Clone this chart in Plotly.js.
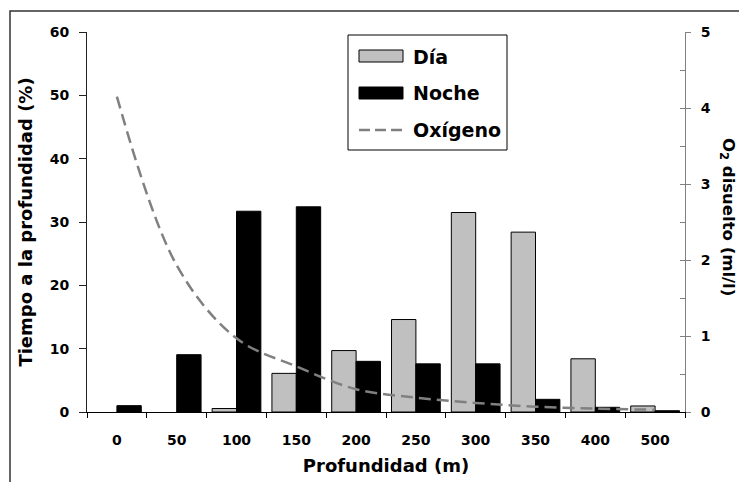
<!DOCTYPE html>
<html>
<head>
<meta charset="utf-8">
<script src="https://cdn.plot.ly/plotly-3.0.1.min.js"></script>
<style>html,body{margin:0;padding:0;background:#fff;}#chart{width:739px;height:482px;}</style>
</head>
<body>
<div id="chart"></div>
<script>
const categories = ['0','50','100','150','200','250','300','350','400','500'];
const dia = [0, 0, 0.55, 6.1, 9.7, 14.6, 31.5, 28.4, 8.4, 0.95];
const noche = [1.0, 9.05, 31.7, 32.4, 8.0, 7.6, 7.6, 2.0, 0.74, 0.2];
const oxigeno = [4.15, 1.93, 0.97, 0.6, 0.30, 0.19, 0.12, 0.07, 0.045, 0.03];
const legendLabels = ['Día', 'Noche', 'Oxígeno'];
const xTitle = 'Profundidad (m)';
const yTitle = 'Tiempo a la profundidad (%)';
const y2Title = 'O<sub>2</sub> disuelto (ml/l)';

const FONT = 'DejaVu Sans';
const bold = (s) => ({family: FONT, size: s, color: '#000', weight: 'bold'});

const traces = [
  {type: 'bar', name: legendLabels[0], x: categories, y: dia,
   marker: {color: '#C0C0C0', line: {color: '#000', width: dia.map(v => v > 0 ? 1 : 0)}}, showlegend: false},
  {type: 'bar', name: legendLabels[1], x: categories, y: noche,
   marker: {color: '#000', line: {color: '#000', width: noche.map(v => v > 0 ? 1 : 0)}}, showlegend: false},
  {type: 'scatter', mode: 'lines', name: legendLabels[2], x: categories, y: oxigeno, yaxis: 'y2',
   line: {color: '#808080', width: 2.5, dash: '12px,6px', shape: 'spline', smoothing: 1}, showlegend: false}
];

// pixel -> paper helpers for decorations (legend box, frame)
const L = 87, R = 685, T = 32, B = 412;
const px = (x) => (x - L) / (R - L);
const py = (y) => (B - y) / (B - T);

const shapes = [
  {type: 'rect', xref: 'paper', yref: 'paper', x0: px(10), x1: px(760), y0: py(11), y1: py(520),
   line: {color: '#333', width: 1.5}, fillcolor: 'rgba(0,0,0,0)', layer: 'below'},
  {type: 'rect', xref: 'paper', yref: 'paper', x0: px(348), x1: px(507), y0: py(150), y1: py(35),
   line: {color: '#000', width: 1}, fillcolor: '#fff', layer: 'above'},
  {type: 'rect', xref: 'paper', yref: 'paper', x0: px(359), x1: px(403), y0: py(62), y1: py(50),
   line: {color: '#000', width: 1}, fillcolor: '#C0C0C0', layer: 'above'},
  {type: 'rect', xref: 'paper', yref: 'paper', x0: px(359), x1: px(403), y0: py(99), y1: py(87),
   line: {color: '#000', width: 1}, fillcolor: '#000', layer: 'above'},
  {type: 'line', xref: 'paper', yref: 'paper', x0: px(359), x1: px(403), y0: py(130), y1: py(130),
   line: {color: '#808080', width: 2.5, dash: '11px,5px'}, layer: 'above'}
];

const annotations = [
  {xref: 'paper', yref: 'paper', x: px(411), y: py(56.5), xanchor: 'left', yanchor: 'middle',
   text: legendLabels[0], showarrow: false, font: bold(19)},
  {xref: 'paper', yref: 'paper', x: px(411), y: py(93), xanchor: 'left', yanchor: 'middle',
   text: legendLabels[1], showarrow: false, font: bold(19)},
  {xref: 'paper', yref: 'paper', x: px(411), y: py(130), xanchor: 'left', yanchor: 'middle',
   text: legendLabels[2], showarrow: false, font: bold(19)},
  {xref: 'paper', yref: 'paper', x: px(727), y: py(217), xanchor: 'center', yanchor: 'middle',
   text: y2Title, textangle: 90, showarrow: false, font: bold(16.5)}
];

const layout = {
  width: 739, height: 482,
  margin: {l: L, r: 739 - R, t: T, b: 482 - B, pad: 0},
  paper_bgcolor: '#fff', plot_bgcolor: '#fff',
  barmode: 'group', bargap: 0.185, bargroupgap: 0,
  showlegend: false,
  font: bold(14),
  xaxis: {
    type: 'category', categoryorder: 'array', categoryarray: categories,
    range: [-0.5, categories.length - 0.5],
    tickson: 'boundaries', ticks: 'outside', ticklen: 5, tickcolor: '#000', tickwidth: 1,
    showline: true, linecolor: '#000', linewidth: 1, showgrid: false, zeroline: false,
    tickfont: bold(14), ticklabelstandoff: 15,
    title: {text: xTitle, font: bold(18), standoff: 12}
  },
  yaxis: {
    range: [0, 60], dtick: 10, tick0: 0,
    ticks: 'outside', ticklen: 7, tickcolor: '#222', tickwidth: 1,
    showline: true, linecolor: '#222', linewidth: 1, showgrid: false, zeroline: false,
    tickfont: bold(14), ticklabelstandoff: 7,
    title: {text: yTitle, font: bold(18), standoff: 12}
  },
  yaxis2: {
    overlaying: 'y', side: 'right', range: [0, 5], dtick: 1, tick0: 0,
    ticks: 'outside', ticklen: 5, tickcolor: '#808080', tickwidth: 1,
    showline: true, linecolor: '#808080', linewidth: 1, showgrid: false, zeroline: false,
    tickfont: bold(14), ticklabelstandoff: 7
  },
  yaxis3: {
    overlaying: 'y', side: 'right', range: [0, 5], dtick: 0.5, tick0: 0,
    ticks: 'inside', ticklen: 5, tickcolor: '#808080', tickwidth: 1,
    showline: false, showgrid: false, zeroline: false, showticklabels: false
  },
  shapes: shapes,
  annotations: annotations
};

// invisible helper trace to activate the inside minor ticks of the right axis
traces.push({type: 'scatter', mode: 'none', x: [categories[0]], y: [0], yaxis: 'y3', showlegend: false, hoverinfo: 'skip'});

Plotly.newPlot('chart', traces, layout, {displayModeBar: false, staticPlot: true});
</script>
</body>
</html>
